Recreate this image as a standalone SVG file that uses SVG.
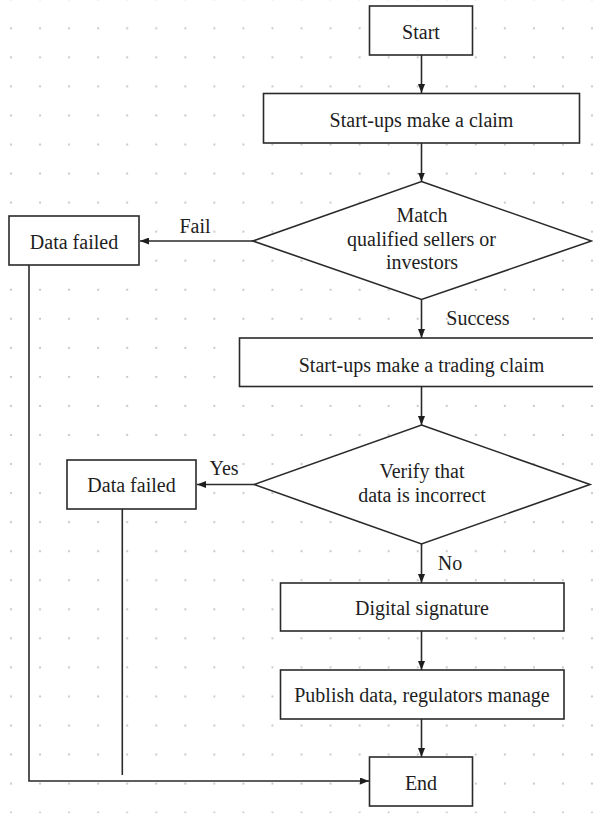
<svg xmlns="http://www.w3.org/2000/svg" width="593" height="813" viewBox="0 0 593 813">
<style>
.box{fill:#fff;stroke:#2a2a2a;stroke-width:1.6}
text{font-family:'Liberation Serif','DejaVu Serif','Times New Roman',Times,serif;font-size:20px;fill:#1e1e1e;text-anchor:middle}
.c{fill:none;stroke:#2a2a2a;stroke-width:1.6}
</style>
<defs>
<pattern id="dots" patternUnits="userSpaceOnUse" x="-3.5" y="-15.2" width="29.05" height="29.05">
<circle cx="14.5" cy="14.5" r="1.1" fill="#c4c4c4"/>
</pattern>
<marker id="ah" markerUnits="userSpaceOnUse" markerWidth="9" markerHeight="7" refX="9" refY="3.5" orient="auto">
<path d="M0,0 L9,3.5 L0,7 z" fill="#1e1e1e"/>
</marker>
</defs>
<rect x="0" y="0" width="593" height="813" fill="#fff"/>
<rect x="0" y="0" width="593" height="813" fill="url(#dots)"/>
<g id="connectors">
<line class="c" x1="421.5" y1="55" x2="421.5" y2="93" marker-end="url(#ah)"/>
<line class="c" x1="421.5" y1="143" x2="421.5" y2="181.5" marker-end="url(#ah)"/>
<line class="c" x1="253" y1="241" x2="140" y2="241" marker-end="url(#ah)"/>
<line class="c" x1="421.5" y1="299.5" x2="421.5" y2="338" marker-end="url(#ah)"/>
<line class="c" x1="421.5" y1="386.5" x2="421.5" y2="425" marker-end="url(#ah)"/>
<line class="c" x1="254" y1="484.5" x2="197" y2="484.5" marker-end="url(#ah)"/>
<line class="c" x1="421.5" y1="544" x2="421.5" y2="583" marker-end="url(#ah)"/>
<line class="c" x1="421.5" y1="631" x2="421.5" y2="670" marker-end="url(#ah)"/>
<line class="c" x1="421.5" y1="719" x2="421.5" y2="757" marker-end="url(#ah)"/>
<polyline class="c" points="29,265 29,781 369,781" marker-end="url(#ah)"/>
<line class="c" x1="122.3" y1="509" x2="122.3" y2="775"/>
<text x="195" y="233">Fail</text>
<text x="478" y="325">Success</text>
<text x="224" y="475">Yes</text>
<text x="450" y="570">No</text>
</g>
<g id="start">
<rect class="box" x="369.5" y="6" width="103" height="49"/>
<text x="421" y="39">Start</text>
</g>
<g id="claim">
<rect class="box" x="263.5" y="93.5" width="316" height="49.5"/>
<text x="421.5" y="127">Start-ups make a claim</text>
</g>
<g id="match">
<polygon class="box" points="421.5,181.5 591.5,241 421.5,299.5 253,241"/>
<text x="422" y="222">Match</text>
<text x="421.5" y="246">qualified sellers or</text>
<text x="422" y="269">investors</text>
</g>
<g id="failed1">
<rect class="box" x="9" y="216" width="130" height="49"/>
<text x="74" y="248.5">Data failed</text>
</g>
<g id="trading">
<rect class="box" x="239.5" y="338" width="370" height="48.5"/>
<text x="421.5" y="372">Start-ups make a trading claim</text>
</g>
<g id="verify">
<polygon class="box" points="421.5,425 590,484.5 421.5,544 254,484.5"/>
<text x="422" y="478">Verify that</text>
<text x="422" y="502">data is incorrect</text>
</g>
<g id="failed2">
<rect class="box" x="67" y="460" width="129" height="49"/>
<text x="131.5" y="492">Data failed</text>
</g>
<g id="signature">
<rect class="box" x="280.5" y="583" width="283.5" height="48"/>
<text x="422" y="615">Digital signature</text>
</g>
<g id="publish">
<rect class="box" x="280.5" y="670" width="283.5" height="49"/>
<text x="422" y="702">Publish data, regulators manage</text>
</g>
<g id="end">
<rect class="box" x="369.5" y="757" width="103" height="49"/>
<text x="421" y="790">End</text>
</g>
</svg>
